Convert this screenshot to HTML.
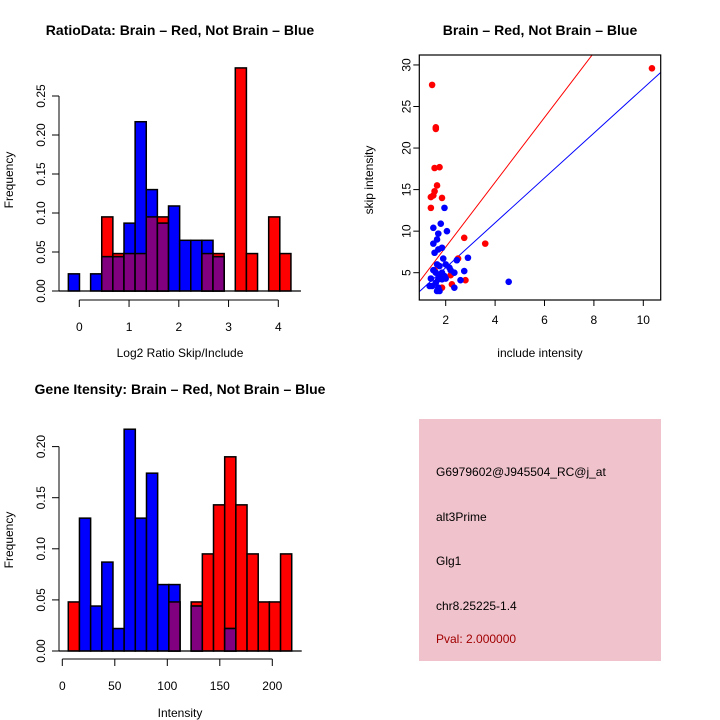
<!DOCTYPE html>
<html><head><meta charset="utf-8"><style>
body{margin:0;background:#fff}
svg{display:block;font-family:"Liberation Sans",sans-serif}
</style></head><body>
<svg id="c" width="720" height="720" xmlns="http://www.w3.org/2000/svg">
<rect width="720" height="720" fill="#fff"/>
<text x="180" y="35" text-anchor="middle" font-size="14" font-weight="bold">RatioData: Brain – Red, Not Brain – Blue</text>
<text x="540" y="35" text-anchor="middle" font-size="14" font-weight="bold">Brain – Red, Not Brain – Blue</text>
<text x="180" y="394" text-anchor="middle" font-size="14" font-weight="bold">Gene Itensity: Brain – Red, Not Brain – Blue</text>
<text x="180" y="357" text-anchor="middle" font-size="12">Log2 Ratio Skip/Include</text>
<text x="13" y="180" text-anchor="middle" font-size="12" transform="rotate(-90 13 180)">Frequency</text>
<text x="540" y="357" text-anchor="middle" font-size="12">include intensity</text>
<text x="373" y="180" text-anchor="middle" font-size="12" transform="rotate(-90 373 180)">skip intensity</text>
<text x="180" y="717" text-anchor="middle" font-size="12">Intensity</text>
<text x="13" y="540" text-anchor="middle" font-size="12" transform="rotate(-90 13 540)">Frequency</text>
<g>
<rect x="419" y="419" width="242" height="242" fill="#f0c2cc"/>
<text x="436" y="476" font-size="12">G6979602@J945504_RC@j_at</text>
<text x="436" y="521" font-size="12">alt3Prime</text>
<text x="436" y="565" font-size="12">Glg1</text>
<text x="436" y="610" font-size="12">chr8.25225-1.4</text>
<text x="436" y="643" font-size="12" fill="#a00000">Pval: 2.000000</text>
</g>
</svg>
<script>
// Ratio histogram data
const ratioBinStart=-0.22, ratioBinWidth=0.2237;
const ratioRed=[0,0,0,0.095,0.048,0.048,0.048,0.095,0.095,0,0,0,0.048,0.048,0,0.286,0.048,0,0.095,0.048];
const ratioBlue=[0.022,0,0.022,0.044,0.044,0.087,0.217,0.130,0.087,0.109,0.065,0.065,0.065,0.044,0,0,0,0,0,0];
const ratioXTicks=[0,1,2,3,4];
const ratioYTicks=["0.00","0.05","0.10","0.15","0.20","0.25"];
// Intensity histogram data
const intBinStart=5.7, intBinWidth=10.64;
const intRed=[0.048,0,0,0,0,0,0,0,0,0.048,0,0.048,0.095,0.143,0.190,0.143,0.095,0.048,0.048,0.095];
const intBlue=[0,0.130,0.044,0.087,0.022,0.217,0.130,0.174,0.065,0.065,0,0.044,0,0,0.022,0,0,0,0,0];
const intXTicks=[0,50,100,150,200];
const intYTicks=["0.00","0.05","0.10","0.15","0.20"];
// Scatter data
const redX=[1.45,1.6,1.6,1.55,1.75,1.65,1.55,1.5,1.4,1.85,1.4,2.75,3.6,2.5,2.2,2.8,2.25,1.85,10.35,1.55];
const redY=[27.6,22.5,22.3,17.6,17.7,15.5,14.8,14.3,14.1,14.0,12.8,9.2,8.5,6.7,4.7,4.1,3.6,3.2,29.6,5.3];
const blueX=[1.95,1.8,1.5,2.05,1.7,1.65,1.5,1.85,1.7,1.55,1.9,2.9,2.45,1.65,2.0,1.75,2.15,1.5,2.2,2.75,2.35,1.6,1.85,1.95,1.75,2.0,1.4,1.7,1.85,2.6,4.55,1.6,1.35,1.45,2.35,1.7,1.65,1.75];
const blueY=[12.8,10.9,10.4,10.0,9.7,9.0,8.5,8.0,7.8,7.4,6.7,6.8,6.5,6.0,6.0,5.8,5.6,5.3,5.3,5.2,5.0,5.0,5.0,4.6,4.5,4.3,4.3,4.2,4.2,4.1,3.9,3.8,3.4,3.4,3.2,3.2,2.8,2.8];
const redLine=[0.28,3.9];
const blueLine=[0.2,2.7];
const scXTicks=[2,4,6,8,10];
const scYTicks=[5,10,15,20,25,30];

const svg=document.getElementById('c');
const NS='http://www.w3.org/2000/svg';
function mk(tag,attrs,parent){const e=document.createElementNS(NS,tag);for(const k in attrs)e.setAttribute(k,attrs[k]);(parent||svg).appendChild(e);return e;}

function hist(cfg){
  const g=mk('g',{});
  
  
  const X=v=>cfg.x0+(v-cfg.xv0)*cfg.xs, Y=v=>cfg.y0-v*cfg.ys;
  for(let i=0;i<cfg.red.length;i++){
    const a=cfg.start+i*cfg.w, b=a+cfg.w;
    const x1=X(a), x2=X(b), r=cfg.red[i], bl=cfg.blue[i];
    if(r>0){const e=mk('rect',{x:x1,y:Y(r),width:x2-x1,height:Y(0)-Y(r),fill:'#ff0000',stroke:'#000','stroke-width':1.5},g);
      }
    if(bl>0){const e=mk('rect',{x:x1,y:Y(bl),width:x2-x1,height:Y(0)-Y(bl),fill:'#0000ff',stroke:'#000','stroke-width':1.5},g);
      }
    const m=Math.min(r,bl);
    if(m>0){const e=mk('rect',{x:x1,y:Y(m),width:x2-x1,height:Y(0)-Y(m),fill:'#800080',stroke:'#000','stroke-width':1.5},g);
      }
  }
  mk('line',{x1:cfg.ax0,x2:X(cfg.start+cfg.red.length*cfg.w)+10,y1:Y(0),y2:Y(0),stroke:'#000','stroke-width':1.3},g);
  // y axis
  const ymax=parseFloat(cfg.yt[cfg.yt.length-1]);
  mk('line',{x1:cfg.ax0,x2:cfg.ax0,y1:Y(0),y2:Y(ymax),stroke:'#000'},g);
  cfg.yt.forEach(t=>{const y=Y(parseFloat(t));mk('line',{x1:cfg.ax0-7,x2:cfg.ax0,y1:y,y2:y,stroke:'#000'},g);
    const tx=mk('text',{x:cfg.ax0-14,y:y,'font-size':12,'text-anchor':'middle',transform:`rotate(-90 ${cfg.ax0-14} ${y})`},g);tx.textContent=t;
    });
  // x axis
  const xt=cfg.xt;
  mk('line',{x1:X(xt[0]),x2:X(xt[xt.length-1]),y1:cfg.xay,y2:cfg.xay,stroke:'#000'},g);
  xt.forEach(t=>{const x=X(t);mk('line',{x1:x,x2:x,y1:cfg.xay,y2:cfg.xay+7,stroke:'#000'},g);
    const tx=mk('text',{x:x,y:cfg.xay+31,'font-size':12,'text-anchor':'middle'},g);tx.textContent=t;
    });
}
hist({name:'ratio-histogram',red:ratioRed,blue:ratioBlue,start:ratioBinStart,w:ratioBinWidth,x0:79.3,xv0:0,xs:49.75,y0:291,ys:780,ax0:59,xay:300,xt:ratioXTicks,yt:ratioYTicks});
hist({name:'intensity-histogram',red:intRed,blue:intBlue,start:intBinStart,w:intBinWidth,x0:62.3,xv0:0,xs:1.05,y0:651,ys:1022,ax0:59,xay:659,xt:intXTicks,yt:intYTicks});

// scatter
const sg=mk('g',{});


const SX=v=>445.7+(v-2)*24.7, SY=v=>272.7-(v-5)*8.31;
const L=419.3,R=660.7,T=55,B=300;
const cp=mk('clipPath',{id:'sc'},sg);mk('rect',{x:L,y:T,width:R-L,height:B-T},cp);
[[redLine,'#ff0000','red-fit-line'],[blueLine,'#0000ff','blue-fit-line']].forEach(([ln,c,n])=>{
  const xa=0.5,xb=11;const e=mk('line',{x1:SX(xa),y1:SY(ln[0]+ln[1]*xa),x2:SX(xb),y2:SY(ln[0]+ln[1]*xb),stroke:c,'stroke-width':1,'clip-path':'url(#sc)'},sg);
  });
redX.forEach((x,i)=>{const e=mk('circle',{cx:SX(x),cy:SY(redY[i]),r:3.3,fill:'#ff0000'},sg);
  });
blueX.forEach((x,i)=>{const e=mk('circle',{cx:SX(x),cy:SY(blueY[i]),r:3.3,fill:'#0000ff'},sg);
  });
mk('rect',{x:L,y:T,width:R-L,height:B-T,fill:'none',stroke:'#000','stroke-width':1.2},sg);
scXTicks.forEach(t=>{const x=SX(t);mk('line',{x1:x,x2:x,y1:B,y2:B+6,stroke:'#000'},sg);
  const tx=mk('text',{x:x,y:B+24,'font-size':12,'text-anchor':'middle'},sg);tx.textContent=t;
  });
scYTicks.forEach(t=>{const y=SY(t);mk('line',{x1:L-6,x2:L,y1:y,y2:y,stroke:'#000'},sg);
  const tx=mk('text',{x:L-9,y:y,'font-size':12,'text-anchor':'middle',transform:`rotate(-90 ${L-9} ${y})`},sg);tx.textContent=t;
  });
</script>
</body></html>
